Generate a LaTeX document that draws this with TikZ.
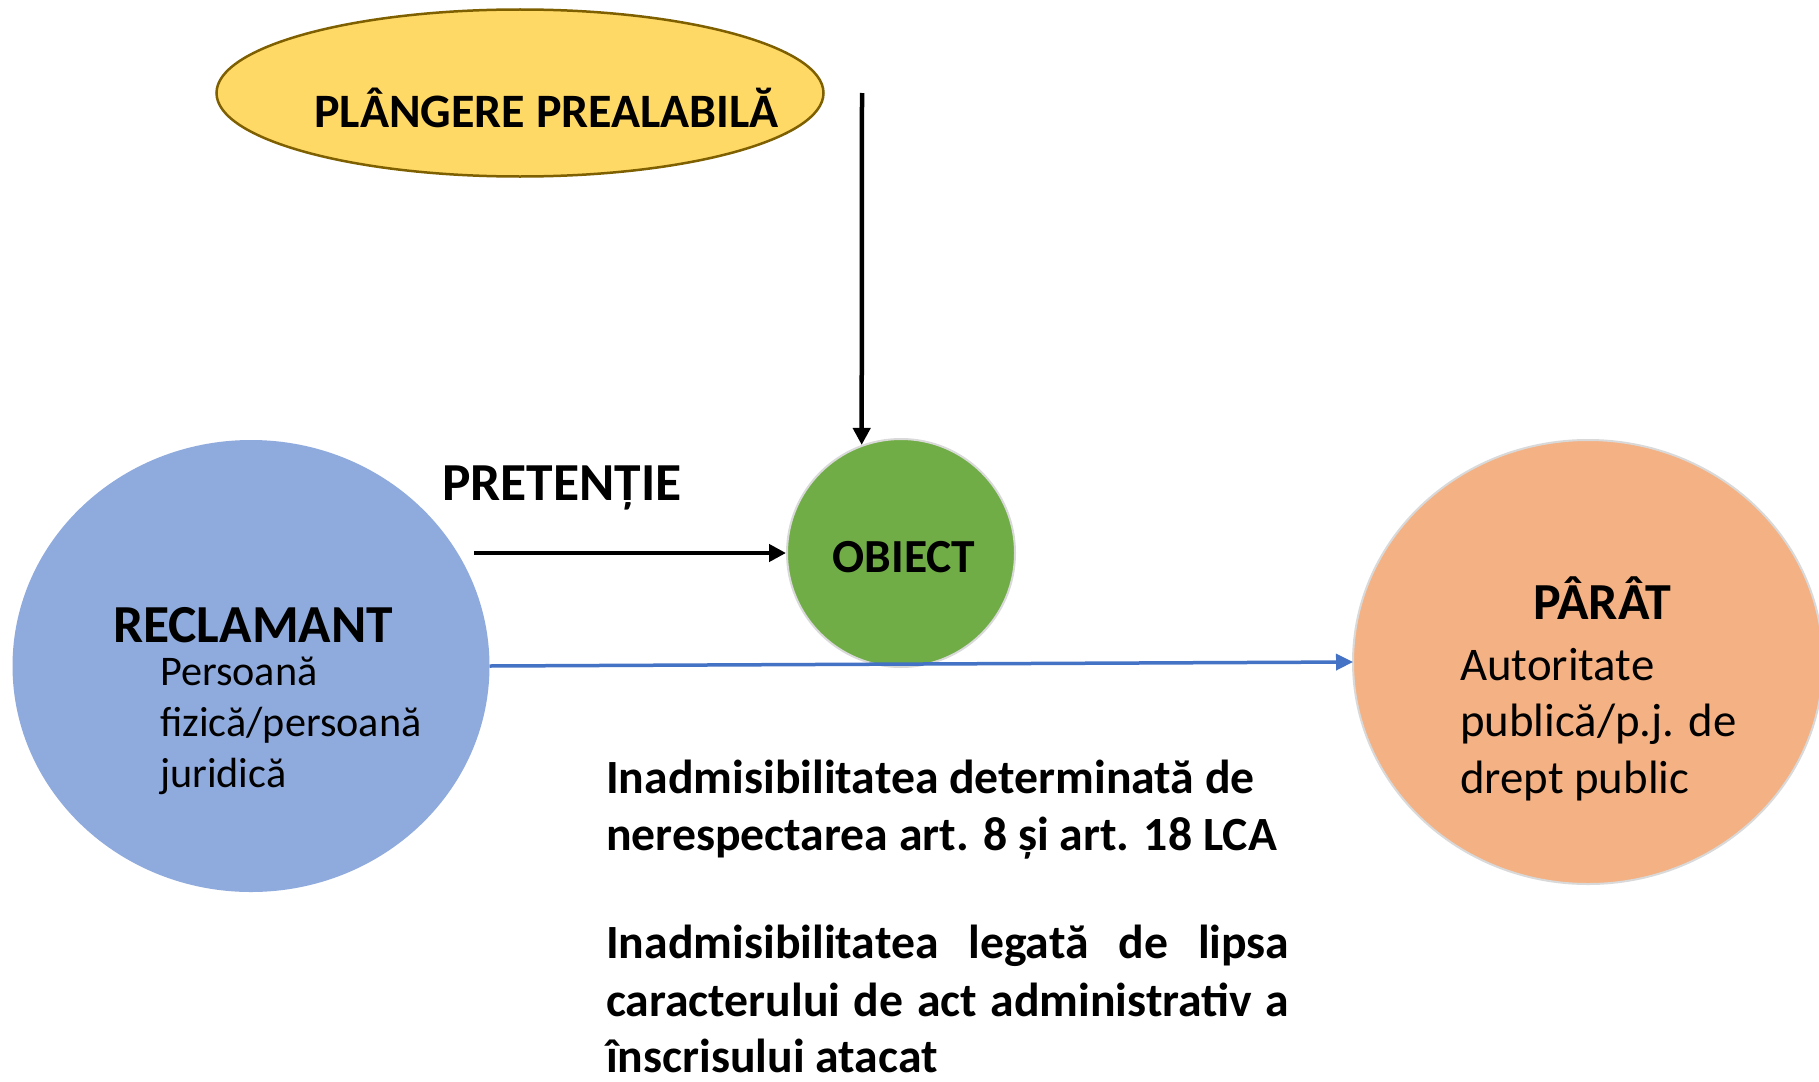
\documentclass[tikz,border=0pt]{standalone}
\usepackage{fontspec}
\setmainfont{Carlito}
\usetikzlibrary{shapes.geometric,arrows.meta}
\definecolor{cYel}{HTML}{FFD966}
\definecolor{cYelB}{HTML}{7F6000}
\definecolor{cRecl}{HTML}{8FAADC}
\definecolor{cObi}{HTML}{70AD47}
\definecolor{cPar}{HTML}{F4B183}
\definecolor{cBord}{HTML}{D9D9D9}
\definecolor{cLink}{HTML}{4472C4}
\begin{document}
\begin{tikzpicture}[x=1pt,y=-1pt,
  blob/.style={ellipse, inner sep=0pt, outer sep=0pt},
  ttl/.style={font=\fontsize{53.5}{64}\selectfont\bfseries, inner sep=0pt, anchor=base west},
  midttl/.style={font=\fontsize{48}{57}\selectfont\bfseries, inner sep=0pt, anchor=base west},
  bodyA/.style={font=\fontsize{42.2}{51}\selectfont, inner sep=0pt, anchor=base west},
  bodyB/.style={font=\fontsize{46.8}{56}\selectfont, inner sep=0pt, anchor=base west},
  note/.style={font=\fontsize{47.7}{57}\selectfont\bfseries, inner sep=0pt, anchor=base west},
  blackarrow/.style={draw=black, line width=4.5pt, -{Triangle[length=17pt,width=17pt]}},
  bluearrow/.style={draw=cLink, line width=3.5pt, -{Triangle[length=17pt,width=16pt]}}
]
\useasboundingbox[fill=white] (0,0) rectangle (1819,1081);

% shapes
\node[blob, fill=cYel, draw=cYelB, line width=2.5pt, minimum width=607pt, minimum height=167pt] (plang) at (520,93) {};
\node[blob, fill=cRecl, minimum width=477pt, minimum height=452pt] (recl) at (251,666) {};
\node[circle, inner sep=0pt, fill=cObi, draw=cBord, line width=2pt, minimum size=228pt] (obiect) at (901,553) {};
\node[blob, fill=cPar, draw=cBord, line width=2pt, minimum width=470pt, minimum height=444pt] (parat) at (1588,662) {};

% connectors
\coordinate (vtop) at (862,93);
\coordinate (pstart) at (474,553);
\draw[blackarrow] (vtop) -- (obiect.110);
\draw[blackarrow] (pstart) -- (obiect.west);
\draw[bluearrow] (recl.east) -- (parat.west);

% texts
\node[midttl] (tplang) at (314,127) {PLÂNGERE PREALABILĂ};
\node[ttl] (trecl) at (113,642) {RECLAMANT};
\node[bodyA] (tr1) at (160,685) {Persoană};
\node[bodyA] (tr2) at (160,736) {fizică/persoană};
\node[bodyA] (tr3) at (160,787) {juridică};
\node[ttl] (tpret) at (442,500) {PRETENȚIE};
\node[font=\fontsize{47.5}{57}\selectfont\bfseries, inner sep=0pt, anchor=base] (tobi) at (904,572) {OBIECT};
\node[font=\fontsize{52}{62}\selectfont\bfseries, inner sep=0pt, anchor=base west] (tpar) at (1533,619) {PÂRÂT};
\node[bodyB] (tp1) at (1460,680) {Autoritate};
\node[bodyB] (tp2) at (1460,736) {publică/p.j. de};
\node[bodyB] (tp3) at (1460,793) {drept public};

\node[note] (n1) at (606,793) {Inadmisibilitatea determinată de};
\node[note] (n2) at (606,850) {nerespectarea art. 8 și art. 18 LCA};
\node[note] (n3) at (606,958) {\makebox[683pt][s]{Inadmisibilitatea legată de lipsa}};
\node[note] (n4) at (606,1016) {\makebox[683pt][s]{caracterului de act administrativ a}};
\node[note] (n5) at (606,1072) {înscrisului atacat};
\end{tikzpicture}
\end{document}
